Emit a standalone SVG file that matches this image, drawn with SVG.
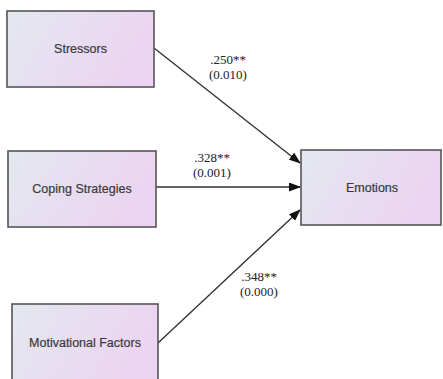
<svg xmlns="http://www.w3.org/2000/svg" width="443" height="379" viewBox="0 0 443 379">
<defs>
<linearGradient id="g" x1="0" y1="0" x2="1" y2="0.3">
<stop offset="0" stop-color="#e3e8ef"/>
<stop offset="1" stop-color="#ecd4f2"/>
</linearGradient>
<marker id="ah" markerWidth="12" markerHeight="9" refX="11" refY="4.5" orient="auto" markerUnits="userSpaceOnUse">
<path d="M0,0 L12,4.5 L0,9 Z" fill="#111"/>
</marker>
</defs>
<style>
.box{fill:url(#g);stroke:#555;stroke-width:1.6}
.lbl{font-family:"Liberation Sans",Arial,sans-serif;font-size:12.5px;fill:#3a3a3a;text-anchor:middle;stroke:#3a3a3a;stroke-width:0.2}
.coef{font-family:"Liberation Serif","Times New Roman",serif;font-size:13px;fill:#222;text-anchor:middle}
.edge{stroke:#333;stroke-width:1.4;fill:none;marker-end:url(#ah)}
</style>
<rect width="443" height="379" fill="#fff"/>
<g id="edges">
<line class="edge" x1="154" y1="48" x2="300" y2="163"/>
<line class="edge" x1="156" y1="187" x2="300" y2="187"/>
<line class="edge" x1="158" y1="343" x2="300" y2="210"/>
<text class="coef" x="228" y="64">.250**</text>
<text class="coef" x="228" y="79">(0.010)</text>
<text class="coef" x="212" y="162">.328**</text>
<text class="coef" x="212" y="177">(0.001)</text>
<text class="coef" x="259" y="281">.348**</text>
<text class="coef" x="259" y="296">(0.000)</text>
</g>
<g id="stressors">
<rect class="box" x="7" y="11" width="147" height="76"/>
<text class="lbl" x="80.5" y="53">Stressors</text>
</g>
<g id="coping">
<rect class="box" x="8" y="151" width="148" height="76"/>
<text class="lbl" x="82" y="193">Coping Strategies</text>
</g>
<g id="motivational">
<rect class="box" x="12" y="304" width="146" height="78"/>
<text class="lbl" x="85" y="347">Motivational Factors</text>
</g>
<g id="emotions">
<rect class="box" x="301" y="150" width="140" height="75"/>
<text class="lbl" x="372" y="192">Emotions</text>
</g>
</svg>
